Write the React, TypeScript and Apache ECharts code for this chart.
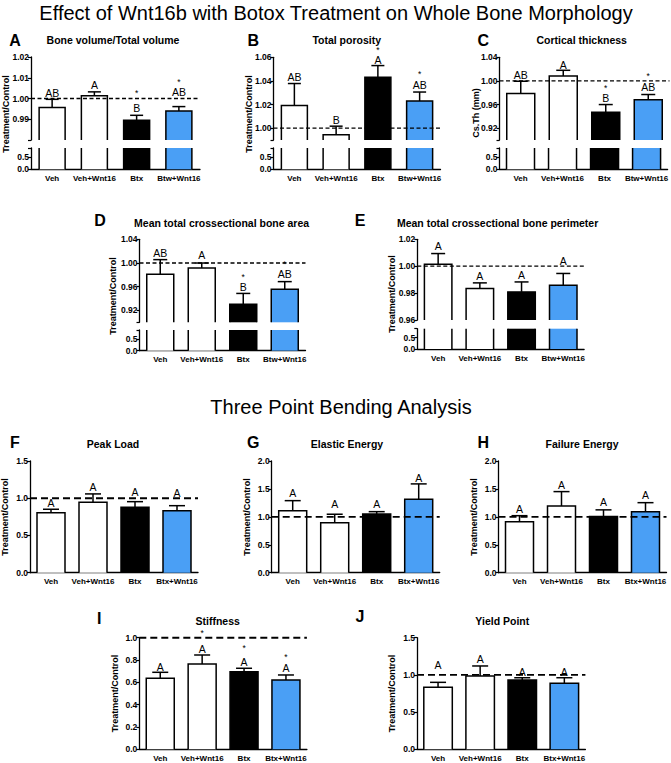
import React, { useEffect, useRef } from "react";
import * as echarts from "echarts";

// ---------------- DATA ----------------
const morphCategories = ["Veh", "Veh+Wnt16", "Btx", "Btw+Wnt16"];
const bendCategories = ["Veh", "Veh+Wnt16", "Btx", "Btx+Wnt16"];

// A Bone volume / Total volume
const bvtvMean = [0.9957, 1.0013, 0.9895, 0.994];
const bvtvSem = [0.0039, 0.0019, 0.0024, 0.0021];
const bvtvLetters = ["AB", "A", "B", "AB"];
const bvtvStars = [false, false, true, true];
const bvtvTicks = [0.98, 0.99, 1.0, 1.01, 1.02];
const bvtvTickLabels = [0.99, 1.0, 1.01, 1.02];

// B Total porosity
const porMean = [1.0193, 0.9944, 1.0431, 1.023];
const porSem = [0.0185, 0.0073, 0.0099, 0.0076];
const porLetters = ["AB", "B", "A", "AB"];
const porStars = [false, false, true, true];
const porTicks = [0.99, 1.0, 1.02, 1.04, 1.06];
const porTickLabels = [1.0, 1.02, 1.04, 1.06];

// C Cortical thickness
const ctMean = [0.9786, 1.0085, 0.947, 0.9683];
const ctSem = [0.0209, 0.0095, 0.013, 0.0087];
const ctLetters = ["AB", "A", "B", "AB"];
const ctStars = [false, false, true, true];
const ctTicks = [0.9, 0.92, 0.96, 1.0, 1.04];
const ctTickLabels = [0.92, 0.96, 1.0, 1.04];

// D Mean total crossectional bone area
const areaMean = [0.981, 0.9915, 0.9304, 0.9556];
const areaSem = [0.0247, 0.0085, 0.0183, 0.013];
const areaLetters = ["AB", "A", "B", "AB"];
const areaStars = [false, false, true, true];
const areaTicks = [0.9, 0.92, 0.96, 1.0, 1.04];
const areaTickLabels = [0.92, 0.96, 1.0, 1.04];

// E Mean total crossectional bone perimeter
const periMean = [1.0015, 0.9834, 0.9809, 0.9859];
const periSem = [0.0079, 0.0042, 0.0074, 0.0087];
const periLetters = ["A", "A", "A", "A"];
const periStars = [false, false, false, false];
const periTicks = [0.96, 0.98, 1.0, 1.02];
const periTickLabels = [0.96, 0.98, 1.0, 1.02];

// lower segment of broken axes
const lowTicks = [0, 0.5, 0.9];
const lowTickLabels = [0, 0.5];

// F Peak Load
const peakMean = [0.806, 0.946, 0.879, 0.833];
const peakSem = [0.046, 0.112, 0.075, 0.067];
const peakLetters = ["A", "A", "A", "A"];
const peakTicks = [0, 0.5, 1.0, 1.5];

// G Elastic Energy
const elasMean = [1.111, 0.896, 1.052, 1.315];
const elasSem = [0.179, 0.151, 0.041, 0.275];
const elasLetters = ["A", "A", "A", "A"];
const elasTicks = [0, 0.5, 1.0, 1.5, 2.0];

// H Failure Energy
const failMean = [0.914, 1.195, 1.005, 1.093];
const failSem = [0.107, 0.257, 0.12, 0.161];
const failLetters = ["A", "A", "A", "A"];
const failTicks = [0, 0.5, 1.0, 1.5, 2.0];

// I Stiffness
const stiffMean = [0.636, 0.764, 0.695, 0.621];
const stiffSem = [0.054, 0.081, 0.031, 0.045];
const stiffLetters = ["A", "A", "A", "A"];
const stiffStars = [false, true, true, true];
const stiffTicks = [0, 0.2, 0.4, 0.6, 0.8, 1.0];

// J Yield Point
const yieldMean = [0.833, 0.985, 0.931, 0.887];
const yieldSem = [0.067, 0.135, 0.031, 0.075];
const yieldLetters = ["A", "A", "A", "A"];
const yieldTicks = [0, 0.5, 1.0, 1.5];

const noStars = [false, false, false, false];

// ---------------- STYLE / LAYOUT ----------------
const FONT = "'Liberation Sans', Arial, Helvetica, sans-serif";
const FILLS = ["#ffffff", "#ffffff", "#000000", "#4a9ff5"];

type Seg = {
  top: number;
  height: number;
  min: number;
  max: number;
  ticks: number[];
  labels: number[];
  decimals: number;
  upper: boolean;
};

type Panel = {
  letter: string;
  title: string;
  yName: string;
  cats: string[];
  mean: number[];
  sem: number[];
  letters: string[];
  stars: boolean[];
  left: number;
  width: number;
  segs: Seg[];
  barW: number;
  cap: number;
  dash: number[];
  dashW: number;
  lift: number[];
  starLift: number[];
  titleX: number;
  titleY: number;
  letterX: number;
  letterY: number;
  nameX: number;
  nameY: number;
};

const upperSeg = (top: number, height: number, min: number, max: number, ticks: number[], labels: number[]): Seg => ({
  top, height, min, max, ticks, labels, decimals: 2, upper: true,
});
const lowerSeg = (top: number, height: number): Seg => ({
  top, height, min: 0, max: 0.9, ticks: lowTicks, labels: lowTickLabels, decimals: 1, upper: false,
});
const fullSeg = (top: number, height: number, ticks: number[], decimals: number): Seg => ({
  top, height, min: ticks[0], max: ticks[ticks.length - 1], ticks, labels: ticks, decimals, upper: true,
});

const panels: Panel[] = [
  {
    letter: "A", title: "Bone volume/Total volume", yName: "Treatment/Control",
    cats: morphCategories, mean: bvtvMean, sem: bvtvSem, letters: bvtvLetters, stars: bvtvStars,
    left: 31, width: 169,
    segs: [upperSeg(57, 83, 0.98, 1.02, bvtvTicks, bvtvTickLabels), lowerSeg(148, 21.3)],
    barW: 26, cap: 6.5, dash: [4, 2.5], dashW: 1.3,
    lift: [6.3, 6.7, 7.3, 14.6], starLift: [0, 0, 16.7, 11.7],
    titleX: 113, titleY: 40, letterX: 15, letterY: 40, nameX: 6, nameY: 114,
  },
  {
    letter: "B", title: "Total porosity", yName: "Treatment/Control",
    cats: morphCategories, mean: porMean, sem: porSem, letters: porLetters, stars: porStars,
    left: 273.5, width: 167,
    segs: [upperSeg(57.3, 82.7, 0.99, 1.06, porTicks, porTickLabels), lowerSeg(148, 21.3)],
    barW: 26, cap: 6.5, dash: [4, 2.5], dashW: 1.3,
    lift: [6.6, 5.7, 5.5, 6.7], starLift: [0, 0, 6, 13.3],
    titleX: 346.7, titleY: 40, letterX: 253.3, letterY: 40, nameX: 249, nameY: 114,
  },
  {
    letter: "C", title: "Cortical thickness", yName: "Cs.Th (mm)",
    cats: morphCategories, mean: ctMean, sem: ctSem, letters: ctLetters, stars: ctStars,
    left: 499.5, width: 170,
    segs: [upperSeg(57.3, 82.7, 0.9, 1.04, ctTicks, ctTickLabels), lowerSeg(148, 21.3)],
    barW: 28, cap: 7, dash: [4, 2.5], dashW: 1.3,
    lift: [6, 5.7, 6.6, 7.6], starLift: [0, 0, 8.7, 13.4],
    titleX: 581.7, titleY: 40, letterX: 483.3, letterY: 40, nameX: 476, nameY: 113,
  },
  {
    letter: "D", title: "Mean total crossectional bone area", yName: "Treatment/Control",
    cats: morphCategories, mean: areaMean, sem: areaSem, letters: areaLetters, stars: areaStars,
    left: 139.5, width: 166,
    segs: [upperSeg(239.3, 83, 0.9, 1.04, areaTicks, areaTickLabels), lowerSeg(330, 20.7)],
    barW: 27, cap: 7, dash: [4, 2.5], dashW: 1.3,
    lift: [6.7, 8.3, 6, 7.7], starLift: [0, 0, 11.3, 9],
    titleX: 221.6, titleY: 222.7, letterX: 100, letterY: 220.7, nameX: 113, nameY: 296,
  },
  {
    letter: "E", title: "Mean total crossectional bone perimeter", yName: "Treatment/Control",
    cats: morphCategories, mean: periMean, sem: periSem, letters: periLetters, stars: periStars,
    left: 417.3, width: 166.8,
    segs: [upperSeg(239.3, 80.7, 0.96, 1.02, periTicks, periTickLabels), lowerSeg(328.7, 20.3)],
    barW: 27.5, cap: 7, dash: [4, 2.5], dashW: 1.3,
    lift: [7.3, 6.7, 6.7, 12.6], starLift: [0, 0, 0, 0],
    titleX: 497.6, titleY: 222.7, letterX: 360, letterY: 220.7, nameX: 392, nameY: 294,
  },
  {
    letter: "F", title: "Peak Load", yName: "Treatment/Control",
    cats: bendCategories, mean: peakMean, sem: peakSem, letters: peakLetters, stars: noStars,
    left: 30, width: 168,
    segs: [fullSeg(461, 111.7, peakTicks, 1)],
    barW: 28, cap: 8, dash: [7, 4], dashW: 1.9,
    lift: [6.6, 6.7, 10, 12.4], starLift: [0, 0, 0, 0],
    titleX: 113, titleY: 444, letterX: 15, letterY: 442, nameX: 5, nameY: 517,
  },
  {
    letter: "G", title: "Elastic Energy", yName: "Treatment/Control",
    cats: bendCategories, mean: elasMean, sem: elasSem, letters: elasLetters, stars: noStars,
    left: 271.7, width: 168,
    segs: [fullSeg(461, 111.7, elasTicks, 1)],
    barW: 28, cap: 8, dash: [7, 4], dashW: 1.9,
    lift: [7.4, 10, 7.4, 6.3], starLift: [0, 0, 0, 0],
    titleX: 347, titleY: 444, letterX: 253.3, letterY: 442, nameX: 247, nameY: 517,
  },
  {
    letter: "H", title: "Failure Energy", yName: "Treatment/Control",
    cats: bendCategories, mean: failMean, sem: failSem, letters: failLetters, stars: noStars,
    left: 498.5, width: 168,
    segs: [fullSeg(461, 111.7, failTicks, 1)],
    barW: 28, cap: 8, dash: [7, 4], dashW: 1.9,
    lift: [6.4, 6.7, 7.6, 7.7], starLift: [0, 0, 0, 0],
    titleX: 582, titleY: 444, letterX: 483.3, letterY: 442, nameX: 474, nameY: 517,
  },
  {
    letter: "I", title: "Stiffness", yName: "Treatment/Control",
    cats: bendCategories, mean: stiffMean, sem: stiffSem, letters: stiffLetters, stars: stiffStars,
    left: 139.3, width: 167.6,
    segs: [fullSeg(637.7, 111.6, stiffTicks, 1)],
    barW: 28, cap: 8, dash: [7, 4], dashW: 1.9,
    lift: [5.6, 5.7, 6.6, 6.7], starLift: [0, 18.3, 16, 13.3],
    titleX: 217.7, titleY: 620.7, letterX: 99.3, letterY: 618.3, nameX: 115, nameY: 693.5,
  },
  {
    letter: "J", title: "Yield Point", yName: "Treatment/Control",
    cats: bendCategories, mean: yieldMean, sem: yieldSem, letters: yieldLetters, stars: noStars,
    left: 417, width: 168.4,
    segs: [fullSeg(637.7, 111.6, yieldTicks, 1)],
    barW: 28.5, cap: 8, dash: [7, 4], dashW: 1.9,
    lift: [17.3, 6.7, 6, 6], starLift: [0, 0, 0, 0],
    titleX: 502.3, titleY: 620.7, letterX: 360, letterY: 616.7, nameX: 392, nameY: 693.5,
  },
];

const makeRender = (p: Panel, upper: boolean) => (params: any, api: any) => {
  const i = api.value(0);
  const mean = api.value(1);
  const top = api.value(2);
  const cs = params.coordSys;
  const gTop = cs.y;
  const gBot = cs.y + cs.height;
  const c = api.coord([i, mean]);
  const cx = c[0];
  const yMean = c[1];
  const y0 = api.coord([i, 0])[1];
  const yErr = api.coord([i, top])[1];
  const l = cx - p.barW / 2;
  const r = cx + p.barW / 2;
  const yA = Math.max(yMean, gTop);
  const yB = Math.min(y0, gBot);
  const kids: any[] = [];
  const ls = { stroke: "#000", lineWidth: 1.5, fill: "none" };
  if (yB > yA) {
    kids.push({ type: "rect", shape: { x: l, y: yA, width: p.barW, height: yB - yA }, style: { fill: FILLS[i] }, z2: 1 });
    if (yMean >= gTop - 0.5) {
      kids.push({ type: "polyline", shape: { points: [[l, yB], [l, yMean], [r, yMean], [r, yB]] }, style: ls, z2: 2 });
    } else {
      kids.push({ type: "line", shape: { x1: l, y1: yA, x2: l, y2: yB }, style: ls, z2: 2 });
      kids.push({ type: "line", shape: { x1: r, y1: yA, x2: r, y2: yB }, style: ls, z2: 2 });
    }
  }
  if (upper) {
    kids.push({ type: "line", shape: { x1: cx, y1: yMean, x2: cx, y2: yErr }, style: ls, z2: 3 });
    kids.push({ type: "line", shape: { x1: cx - p.cap, y1: yErr, x2: cx + p.cap, y2: yErr }, style: ls, z2: 3 });
    const ly = yErr - p.lift[i];
    kids.push({
      type: "text", x: cx, y: ly, z2: 4,
      style: { text: p.letters[i], fill: "#000", fontSize: 10.5, fontFamily: FONT, align: "center", verticalAlign: "middle" },
    });
    if (p.stars[i]) {
      const gap = Math.max(p.starLift[i] - 2, 10);
      kids.push({
        type: "text", x: cx, y: ly - gap, z2: 4,
        style: { text: "*", fill: "#000", fontSize: 8.5, fontFamily: FONT, align: "center", verticalAlign: "middle" },
      });
    }
    if (params.dataIndex === 0) {
      const y1 = api.coord([0, 1])[1];
      kids.push({
        type: "line", shape: { x1: cs.x, y1, x2: cs.x + cs.width, y2: y1 }, z2: 10,
        style: { stroke: "#000", lineWidth: p.dashW, lineDash: p.dash },
      });
    }
  }
  return { type: "group", children: kids };
};

const buildOption = () => {
  const grid: any[] = [];
  const xAxis: any[] = [];
  const yAxis: any[] = [];
  const series: any[] = [];
  const graphic: any[] = [];

  panels.forEach((p) => {
    p.segs.forEach((s, si) => {
      const gi = grid.length;
      const isBottom = si === p.segs.length - 1;
      grid.push({ left: p.left, top: s.top, width: p.width, height: s.height, containLabel: false });
      xAxis.push({
        gridIndex: gi, type: "category", data: p.cats, show: isBottom,
        axisLine: { show: true, lineStyle: { color: "#000", width: 1.3 } },
        axisTick: { show: false },
        axisLabel: { interval: 0, color: "#000", fontSize: 8, fontWeight: "bold", fontFamily: FONT, margin: 5 },
        splitLine: { show: false },
      });
      yAxis.push({
        gridIndex: gi, type: "value", min: s.min, max: s.max,
        axisLine: { show: true, lineStyle: { color: "#000", width: 1.3 } },
        axisTick: { show: true, length: 3, customValues: s.ticks, lineStyle: { color: "#000", width: 1.2 } },
        axisLabel: {
          customValues: s.labels, color: "#000", fontSize: 8.5, fontWeight: "bold", fontFamily: FONT, margin: 2,
          formatter: (v: number) => Number(v).toFixed(s.decimals),
        },
        splitLine: { show: false },
      });
      series.push({
        type: "custom", xAxisIndex: gi, yAxisIndex: gi, silent: true, clip: false,
        data: p.mean.map((m, i) => [i, m, m + p.sem[i]]),
        renderItem: makeRender(p, s.upper),
      });
    });
    graphic.push({
      type: "text", x: p.letterX, y: p.letterY,
      style: { text: p.letter, fill: "#000", fontSize: 16, fontWeight: "bold", fontFamily: FONT, align: "center", verticalAlign: "middle" },
    });
    graphic.push({
      type: "text", x: p.titleX, y: p.titleY,
      style: { text: p.title, fill: "#000", fontSize: 10.5, fontWeight: "bold", fontFamily: FONT, align: "center", verticalAlign: "middle" },
    });
    graphic.push({
      type: "text", x: p.nameX, y: p.nameY, rotation: Math.PI / 2,
      style: { text: p.yName, fill: "#000", fontSize: 9, fontWeight: "bold", fontFamily: FONT, align: "center", verticalAlign: "middle" },
    });
  });

  graphic.push({
    type: "text", x: 336, y: 13,
    style: { text: "Effect of Wnt16b with Botox Treatment on Whole Bone Morphology", fill: "#000", fontSize: 20, fontFamily: FONT, align: "center", verticalAlign: "middle" },
  });
  graphic.push({
    type: "text", x: 341, y: 407,
    style: { text: "Three Point Bending Analysis", fill: "#000", fontSize: 20, fontFamily: FONT, align: "center", verticalAlign: "middle" },
  });

  return {
    animation: false,
    backgroundColor: "#ffffff",
    grid, xAxis, yAxis, series, graphic,
  };
};

export default function App() {
  const ref = useRef<HTMLDivElement>(null);
  useEffect(() => {
    if (!ref.current) return;
    const chart = echarts.init(ref.current, undefined, { renderer: "svg" });
    chart.setOption(buildOption() as any);
    return () => chart.dispose();
  }, []);
  return (
    <div
      ref={ref}
      style={{ position: "absolute", left: 0, top: 0, width: 671, height: 763, background: "#fff" }}
    />
  );
}
